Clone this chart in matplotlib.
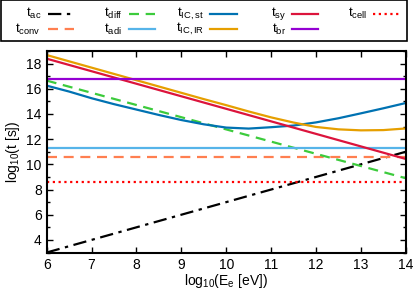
import numpy as np
import matplotlib
matplotlib.use('Agg')
import matplotlib.pyplot as plt
from matplotlib.ticker import MultipleLocator
from matplotlib.lines import Line2D
from matplotlib.patches import Rectangle

plt.rcParams['font.family'] = ['Liberation Sans', 'DejaVu Sans']
plt.rcParams['mathtext.fontset'] = 'custom'
plt.rcParams['mathtext.rm'] = 'Liberation Sans'
plt.rcParams['mathtext.it'] = 'Liberation Sans'

# log10(E_e [eV]) grid used for the curves
E = [6, 14]
E_fine = [6, 6.5, 7, 7.5, 8, 8.5, 9, 9.5, 10, 10.5, 11, 11.5, 12, 12.5, 13, 13.5, 14]

# time scales, log10(t [s])
t_ac = [3.0, 11.0]
t_conv = [10.6, 10.6]
t_diff = [16.65, 8.9]
t_adi = [11.28, 11.28]
t_ic_st = [16.25, 15.78, 15.25, 14.78, 14.35, 13.92, 13.52, 13.18, 12.92,
           12.84, 12.95, 13.08, 13.33, 13.66, 14.05, 14.45, 14.87]
t_ic_ir = [18.68, 18.18, 17.68, 17.18, 16.68, 16.18, 15.68, 15.18, 14.7,
           14.2, 13.73, 13.32, 12.97, 12.78, 12.7, 12.72, 12.85]
t_sy = [18.39, 10.43]
t_br = [16.78, 16.78]
t_cell = [8.58, 8.58]

W, H = 417, 291
fig = plt.figure(figsize=(W / 100, H / 100), dpi=100)
ax = fig.add_axes([0.112, 0.1323, 0.861, 0.6924])

lw = 1.6
styles = [
    (E, t_ac, dict(color='black', dashes=(6, 2.5, 1.5, 2.5)), r'$\mathrm{t_{ac}}$'),
    (E, t_conv, dict(color='#ff7f50', dashes=(4.5, 3)), r'$\mathrm{t_{conv}}$'),
    (E, t_diff, dict(color='#3ccb3c', dashes=(4.5, 3)), r'$\mathrm{t_{diff}}$'),
    (E, t_adi, dict(color='#56b4e9'), r'$\mathrm{t_{adi}}$'),
    (E_fine, t_ic_st, dict(color='#0072b2'), r'$\mathrm{t_{IC,st}}$'),
    (E_fine, t_ic_ir, dict(color='#e69f00'), r'$\mathrm{t_{IC,IR}}$'),
    (E, t_sy, dict(color='#dc143c'), r'$\mathrm{t_{sy}}$'),
    (E, t_br, dict(color='#9400d3'), r'$\mathrm{t_{br}}$'),
    (E, t_cell, dict(color='#ff0000', dashes=(1, 1.6)), r'$\mathrm{t_{cell}}$'),
]
for x, y, kw, lab in styles:
    ax.plot(x, y, lw=lw, **kw)

ax.set_xlim(6, 14)
ax.set_ylim(3, 19)
ax.xaxis.set_major_locator(MultipleLocator(1))
ax.yaxis.set_major_locator(MultipleLocator(2))
ax.yaxis.set_minor_locator(MultipleLocator(1))
ax.tick_params(which='both', direction='in', top=True, right=True, labelsize=10, width=1)
ax.tick_params(which='major', length=4)
ax.tick_params(which='minor', length=2.5)
ax.tick_params(axis='x', pad=4)
for s in ax.spines.values():
    s.set_linewidth(1.5)

ax.set_xlabel(r'log$_{10}$(E$_\mathrm{e}$ [eV])', fontsize=10, labelpad=0)
ax.set_ylabel(r'log$_{10}$(t [s])', fontsize=10, labelpad=3)

# key box on top, gnuplot style: label right-aligned, sample to its right
fig.add_artist(Rectangle((0.5 / W, 1 - 41.5 / H), 406 / W, 41 / H,
                         transform=fig.transFigure, fill=False,
                         edgecolor='black', lw=1.2))
col_text = [41, 122, 204, 286, 367]
col_line = [(48, 74), (129, 155), (210, 237), (292, 318), (373, 399)]
row_y = [13.5, 29.0]
for i, (x, y, kw, lab) in enumerate(styles):
    c, r = divmod(i, 2)
    yy = 1 - row_y[r] / H
    fig.text(col_text[c] / W, yy, lab, ha='right', va='center', fontsize=9.6)
    x0, x1 = col_line[c]
    fig.add_artist(Line2D([x0 / W, x1 / W], [yy, yy], transform=fig.transFigure,
                          lw=lw, **kw))

fig.savefig('out.png', dpi=100)
